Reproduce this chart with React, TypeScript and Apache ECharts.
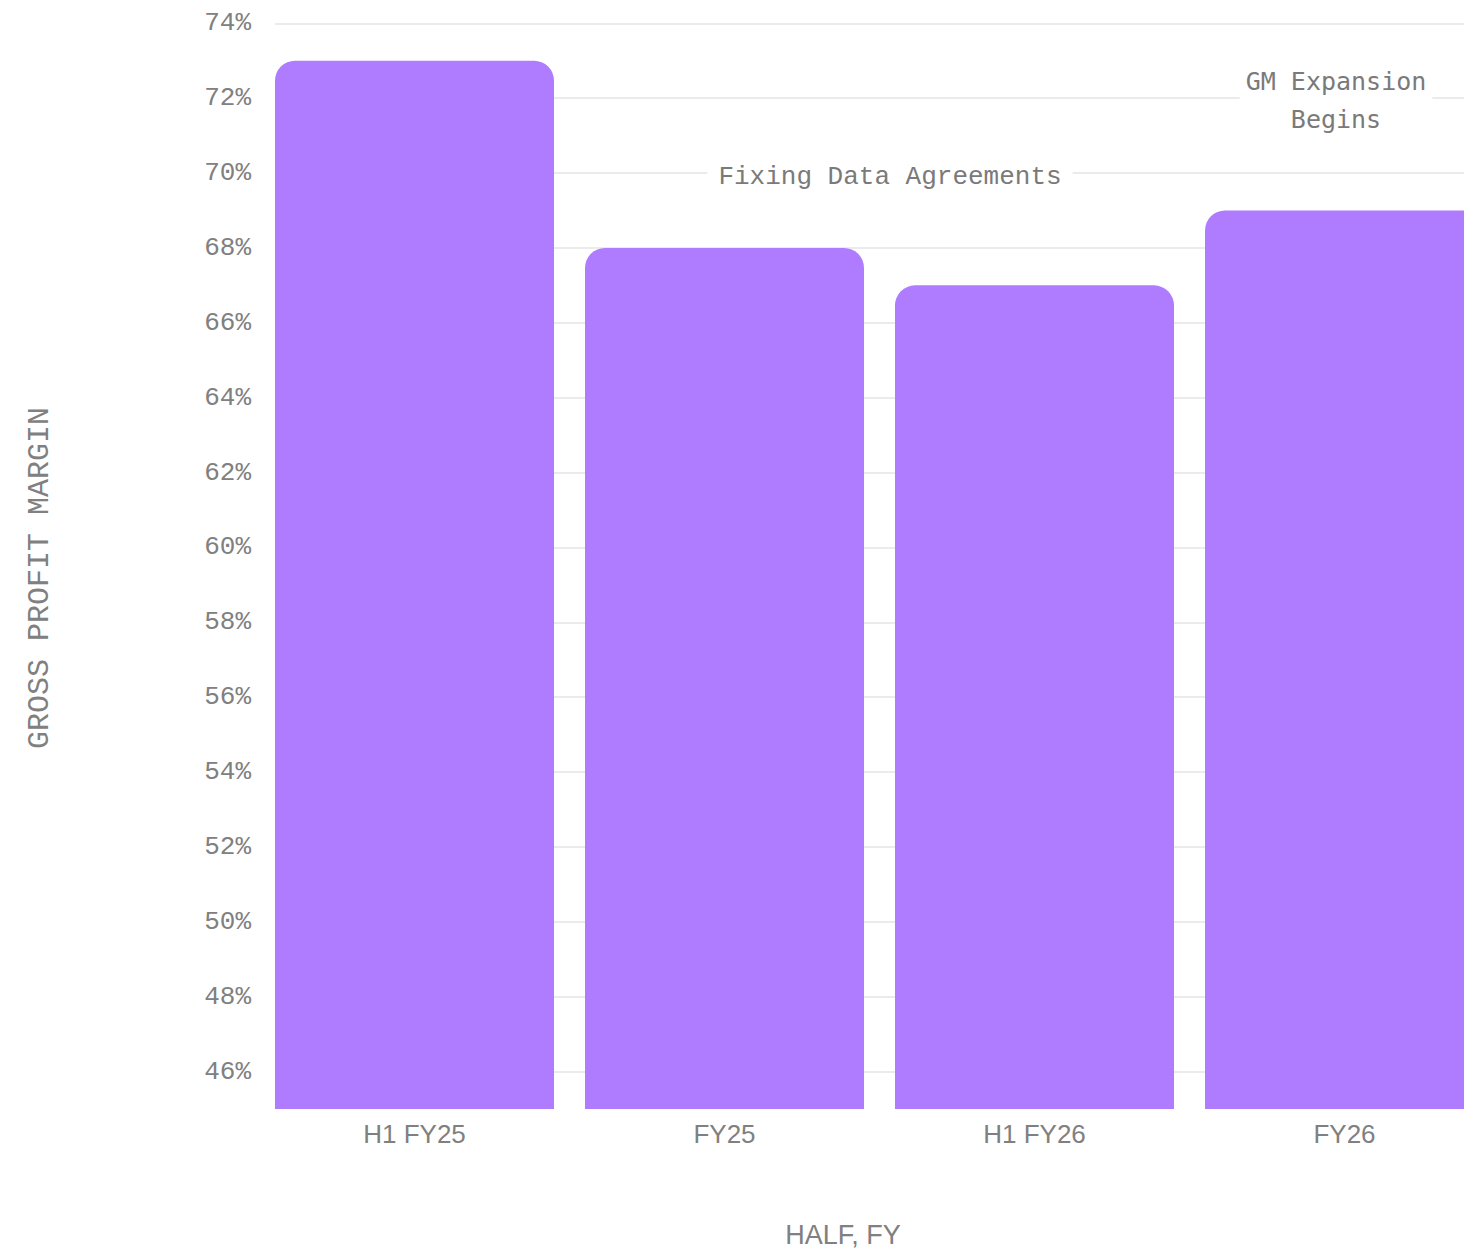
import React, { useEffect, useRef } from "react";
import * as echarts from "echarts";

// Gross profit margin by reporting period
const categories = ["H1 FY25", "FY25", "H1 FY26", "FY26"];
const grossMargin = [73, 68, 67, 69];

// Value axis range (percent)
const barFloor = 45;
const tickMin = 46;
const tickMax = 74;
const tickStep = 2;

// Callouts pinned to a period and a margin level
const calloutTexts = ["Fixing Data Agreements", "GM Expansion\nBegins"];
const calloutCategories = ["FY25", "FY26"];
const calloutValues = [70, 72];

const GREY = "#808080";
const BAR = "#B07CFF";
const GRID_LINE = "#e4e4e4";
const MONO = "'Liberation Mono', 'DejaVu Sans Mono', monospace";
const MONO_HEAVY = "'DejaVu Sans Mono', 'Liberation Mono', monospace";
const SANS = "'Liberation Sans', Arial, sans-serif";

// The plot runs past the right edge of the visible frame
const CHART_W = 1520;
const CHART_H = 1251;

export default function App() {
  const ref = useRef<HTMLDivElement>(null);

  useEffect(() => {
    if (!ref.current) return;
    const chart = echarts.init(ref.current, undefined, { renderer: "svg" });

    const plotTop = 23.3;
    const floorY = 1109; // pixel row of the bar floor
    const pxPerPct = (floorY - plotTop) / (tickMax - barFloor);
    const tickFloorY = floorY - (tickMin - barFloor) * pxPerPct;
    const barGridLeft = 259.5;
    const bandWidth = 310;
    const barGridRight = CHART_W - (barGridLeft + bandWidth * categories.length);

    const calloutStyles = [
      { offset: [165.5, 4], padding: [2, 11], fontWeight: "normal" as const, font: MONO, size: 26 },
      { offset: [-8.5, 2], padding: [0, 6], fontWeight: "normal" as const, font: MONO_HEAVY, size: 25 },
    ];

    chart.setOption({
      animation: false,
      grid: [
        { left: barGridLeft, right: barGridRight, top: plotTop, bottom: CHART_H - floorY },
        { left: 275, right: 0, top: plotTop, bottom: CHART_H - tickFloorY },
      ],
      xAxis: [
        {
          type: "category",
          gridIndex: 0,
          data: categories,
          axisLine: { show: false },
          axisTick: { show: false },
          axisLabel: {
            color: GREY,
            fontSize: 26,
            fontFamily: SANS,
            margin: 12,
          },
        },
        { type: "value", gridIndex: 1, show: false, min: 0, max: 1 },
      ],
      yAxis: [
        { type: "value", gridIndex: 0, min: barFloor, max: tickMax, show: false },
        {
          type: "value",
          gridIndex: 1,
          min: tickMin,
          max: tickMax,
          interval: tickStep,
          axisLine: { show: false },
          axisTick: { show: false },
          axisLabel: {
            formatter: "{value}%",
            color: GREY,
            fontSize: 26,
            fontFamily: MONO,
            margin: 24,
            padding: [8, 0, 0, 0],
          },
          splitLine: { lineStyle: { color: GRID_LINE, width: 1.5 } },
        },
      ],
      series: [
        {
          type: "bar",
          xAxisIndex: 0,
          yAxisIndex: 0,
          data: grossMargin,
          barCategoryGap: "10%",
          itemStyle: { color: BAR, borderRadius: [20, 20, 0, 0] },
          markPoint: {
            symbol: "circle",
            symbolSize: 1,
            itemStyle: { color: "rgba(0,0,0,0)" },
            data: calloutTexts.map((text, i) => ({
              coord: [calloutCategories[i], calloutValues[i]],
              label: {
                show: true,
                position: "inside",
                formatter: text,
                offset: calloutStyles[i].offset,
                color: "#7a7a7a",
                fontSize: calloutStyles[i].size,
                fontFamily: calloutStyles[i].font,
                fontWeight: calloutStyles[i].fontWeight,
                lineHeight: 38,
                align: "center",
                backgroundColor: "#ffffff",
                padding: calloutStyles[i].padding,
              },
            })),
          },
        },
      ],
      graphic: [
        {
          type: "text",
          x: 40,
          y: 578,
          rotation: Math.PI / 2,
          style: {
            text: "GROSS PROFIT MARGIN",
            fill: GREY,
            fontSize: 30,
            fontFamily: MONO,
            textAlign: "center",
            textVerticalAlign: "middle",
          },
        },
        {
          type: "text",
          x: 843,
          y: 1235,
          style: {
            text: "HALF, FY",
            fill: GREY,
            fontSize: 27,
            fontFamily: SANS,
            textAlign: "center",
            textVerticalAlign: "middle",
          },
        },
      ],
    });

    return () => chart.dispose();
  }, []);

  return (
    <div
      style={{ position: "absolute", left: 0, top: 0, width: 1464, height: CHART_H, overflow: "hidden" }}
    >
      <div ref={ref} style={{ width: CHART_W, height: CHART_H }} />
    </div>
  );
}
